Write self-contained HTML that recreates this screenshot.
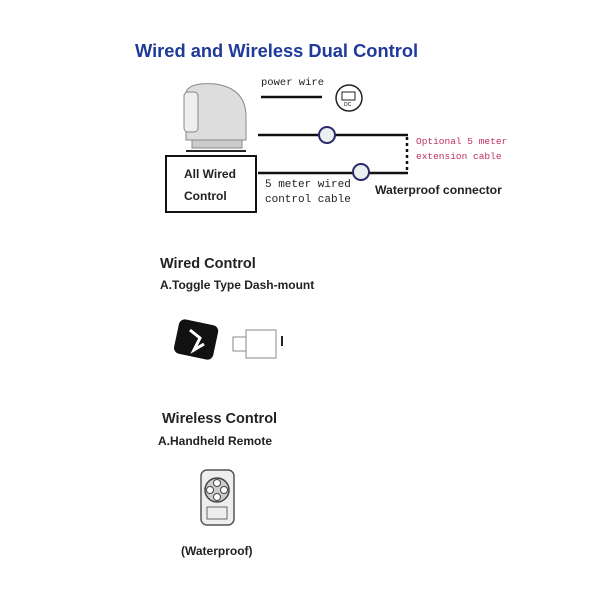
<!DOCTYPE html>
<html><head><style>
body{margin:0;width:600px;height:600px;background:#fff;position:relative;overflow:hidden;font-family:"Liberation Sans",sans-serif}
.t{position:absolute;white-space:nowrap}
.m{font-family:"Liberation Mono",monospace;font-size:11px;color:#222}
.b{font-weight:bold;color:#222}
</style></head><body>
<div class="t" style="left:135px;top:40px;font-size:18.3px;font-weight:bold;color:#1f3a9a">Wired and Wireless Dual Control</div>
<svg width="600" height="600" style="position:absolute;left:0;top:0">
<path d="M186 92 Q190 82 215 84 Q245 88 246 115 L246 140 L186 140 Z" fill="#ddd" stroke="#888"/>
<rect x="184" y="92" width="14" height="40" rx="4" fill="#eee" stroke="#888"/>
<rect x="192" y="140" width="50" height="8" fill="#ccc" stroke="#888"/>
<line x1="186" y1="151" x2="246" y2="151" stroke="#222" stroke-width="2"/>
<rect x="166" y="156" width="90" height="56" fill="#fff" stroke="#111" stroke-width="2"/>
<line x1="261" y1="97" x2="322" y2="97" stroke="#111" stroke-width="2.5"/>
<circle cx="349" cy="98" r="13" fill="#fff" stroke="#222" stroke-width="1.5"/>
<rect x="342" y="92" width="13" height="8" fill="none" stroke="#222"/>
<text x="344" y="106" font-size="5" font-family="Liberation Sans">DC</text>
<line x1="258" y1="135" x2="408" y2="135" stroke="#111" stroke-width="2.5"/>
<line x1="258" y1="173" x2="408" y2="173" stroke="#111" stroke-width="2.5"/>
<line x1="407" y1="137" x2="407" y2="172" stroke="#111" stroke-width="2.5" stroke-dasharray="3,3"/>
<circle cx="327" cy="135" r="8" fill="#e8f0f0" stroke="#2a2a6a" stroke-width="2"/>
<circle cx="361" cy="172" r="8" fill="#e8f0f0" stroke="#2a2a6a" stroke-width="2"/>
<rect x="176" y="322" width="40" height="35" rx="6" fill="#111" transform="rotate(12 196 340)"/>
<path d="M190 330 l10 8 l-6 12 l10 -6" stroke="#fff" stroke-width="3" fill="none"/>
<rect x="246" y="330" width="30" height="28" fill="none" stroke="#888"/>
<rect x="233" y="337" width="13" height="14" fill="none" stroke="#888"/>
<line x1="282" y1="336" x2="282" y2="346" stroke="#222" stroke-width="2"/>
<rect x="201" y="470" width="33" height="55" rx="6" fill="#eee" stroke="#555" stroke-width="1.5"/>
<circle cx="217" cy="490" r="12" fill="#ccc" stroke="#444" stroke-width="1.5"/>
<circle cx="217" cy="483" r="3.5" fill="#fff" stroke="#444"/><circle cx="217" cy="497" r="3.5" fill="#fff" stroke="#444"/>
<circle cx="210" cy="490" r="3.5" fill="#fff" stroke="#444"/><circle cx="224" cy="490" r="3.5" fill="#fff" stroke="#444"/>
<rect x="207" y="507" width="20" height="12" fill="none" stroke="#666"/>
</svg>
<div class="t m" style="left:261px;top:77px;font-size:10.5px">power wire</div>
<div class="t b" style="left:184px;top:167px;font-size:12px">All Wired</div>
<div class="t b" style="left:184px;top:189px;font-size:12px">Control</div>
<div class="t m" style="left:416px;top:136px;color:#c0305a;font-size:9.5px">Optional 5 meter</div>
<div class="t m" style="left:416px;top:151px;color:#c0305a;font-size:9.5px">extension cable</div>
<div class="t m" style="left:265px;top:179px">5 meter wired</div>
<div class="t m" style="left:265px;top:194px">control cable</div>
<div class="t b" style="left:375px;top:183px;font-size:12.2px">Waterproof connector</div>
<div class="t b" style="left:160px;top:256px;font-size:14.5px">Wired Control</div>
<div class="t b" style="left:160px;top:278px;font-size:12px">A.Toggle Type Dash-mount</div>
<div class="t b" style="left:162px;top:411px;font-size:14.5px">Wireless Control</div>
<div class="t b" style="left:158px;top:434px;font-size:12px">A.Handheld Remote</div>
<div class="t b" style="left:181px;top:544px;font-size:12px">(Waterproof)</div>
</body></html>
